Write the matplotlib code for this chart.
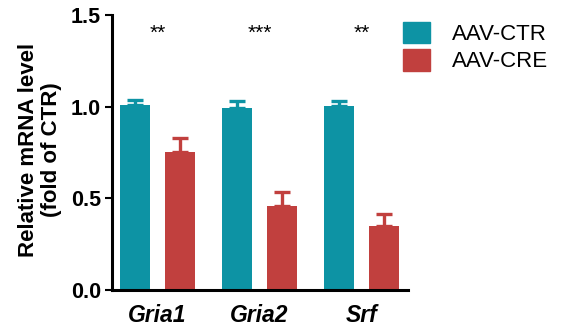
import matplotlib.pyplot as plt
import numpy as np
from matplotlib.patches import Patch

plt.rcParams['font.family'] = ['Liberation Sans', 'DejaVu Sans']

genes = ["Gria1", "Gria2", "Srf"]
ctr_mean = [1.01, 0.995, 1.004]
ctr_err = [0.028, 0.038, 0.025]
cre_mean = [0.751, 0.457, 0.351]
cre_err = [0.076, 0.076, 0.062]
stars = ["**", "***", "**"]

teal = '#0d93a4'
red = '#c1403e'

x = np.arange(len(genes))
width = 0.294
off = 0.22

fig = plt.figure(figsize=(5.68, 3.35), dpi=100)
ax = fig.add_axes([112/568, 1 - 290/335, (408-112)/568, (290-15)/335])

ax.bar(x - off, ctr_mean, width, color=teal, yerr=[np.zeros(3), ctr_err],
       error_kw=dict(ecolor=teal, elinewidth=2.4, capsize=5.5, capthick=2.4))
ax.bar(x + off, cre_mean, width, color=red, yerr=[np.zeros(3), cre_err],
       error_kw=dict(ecolor=red, elinewidth=2.4, capsize=5.5, capthick=2.4))

for xi, s in zip(x, stars):
    ax.text(xi, 1.40, s, ha='center', va='center', fontsize=15)

ax.set_xlim(-0.446, 2.456)
ax.set_ylim(0, 1.5)
ax.set_yticks([0, 0.5, 1.0, 1.5])
ax.set_yticklabels(["0.0", "0.5", "1.0", "1.5"], fontsize=15.5, fontweight='bold')
ax.set_xticks(x)
ax.set_xticklabels(genes, fontsize=16.5, fontweight='bold', fontstyle='italic')
ax.tick_params(axis='x', length=0, pad=10)
ax.tick_params(axis='y', length=5, width=1.5, pad=3)
for side in ['top', 'right']:
    ax.spines[side].set_visible(False)
for side in ['left', 'bottom']:
    ax.spines[side].set_linewidth(2.2)

fig.text(40/568, 1 - 150/335, "Relative mRNA level\n(fold of CTR)", rotation=90,
         ha='center', va='center', fontsize=16, fontweight='bold', linespacing=1.15)

handles = [Patch(color=teal, label='AAV-CTR'), Patch(color=red, label='AAV-CRE')]
fig.legend(handles=handles, loc='upper left', bbox_to_anchor=(403/568, 1 - 22/335),
           frameon=False, fontsize=16, handlelength=1.2, handleheight=1.1,
           handletextpad=1.0, labelspacing=0.18, borderpad=0, borderaxespad=0)

fig.savefig('out.png', dpi=100)
